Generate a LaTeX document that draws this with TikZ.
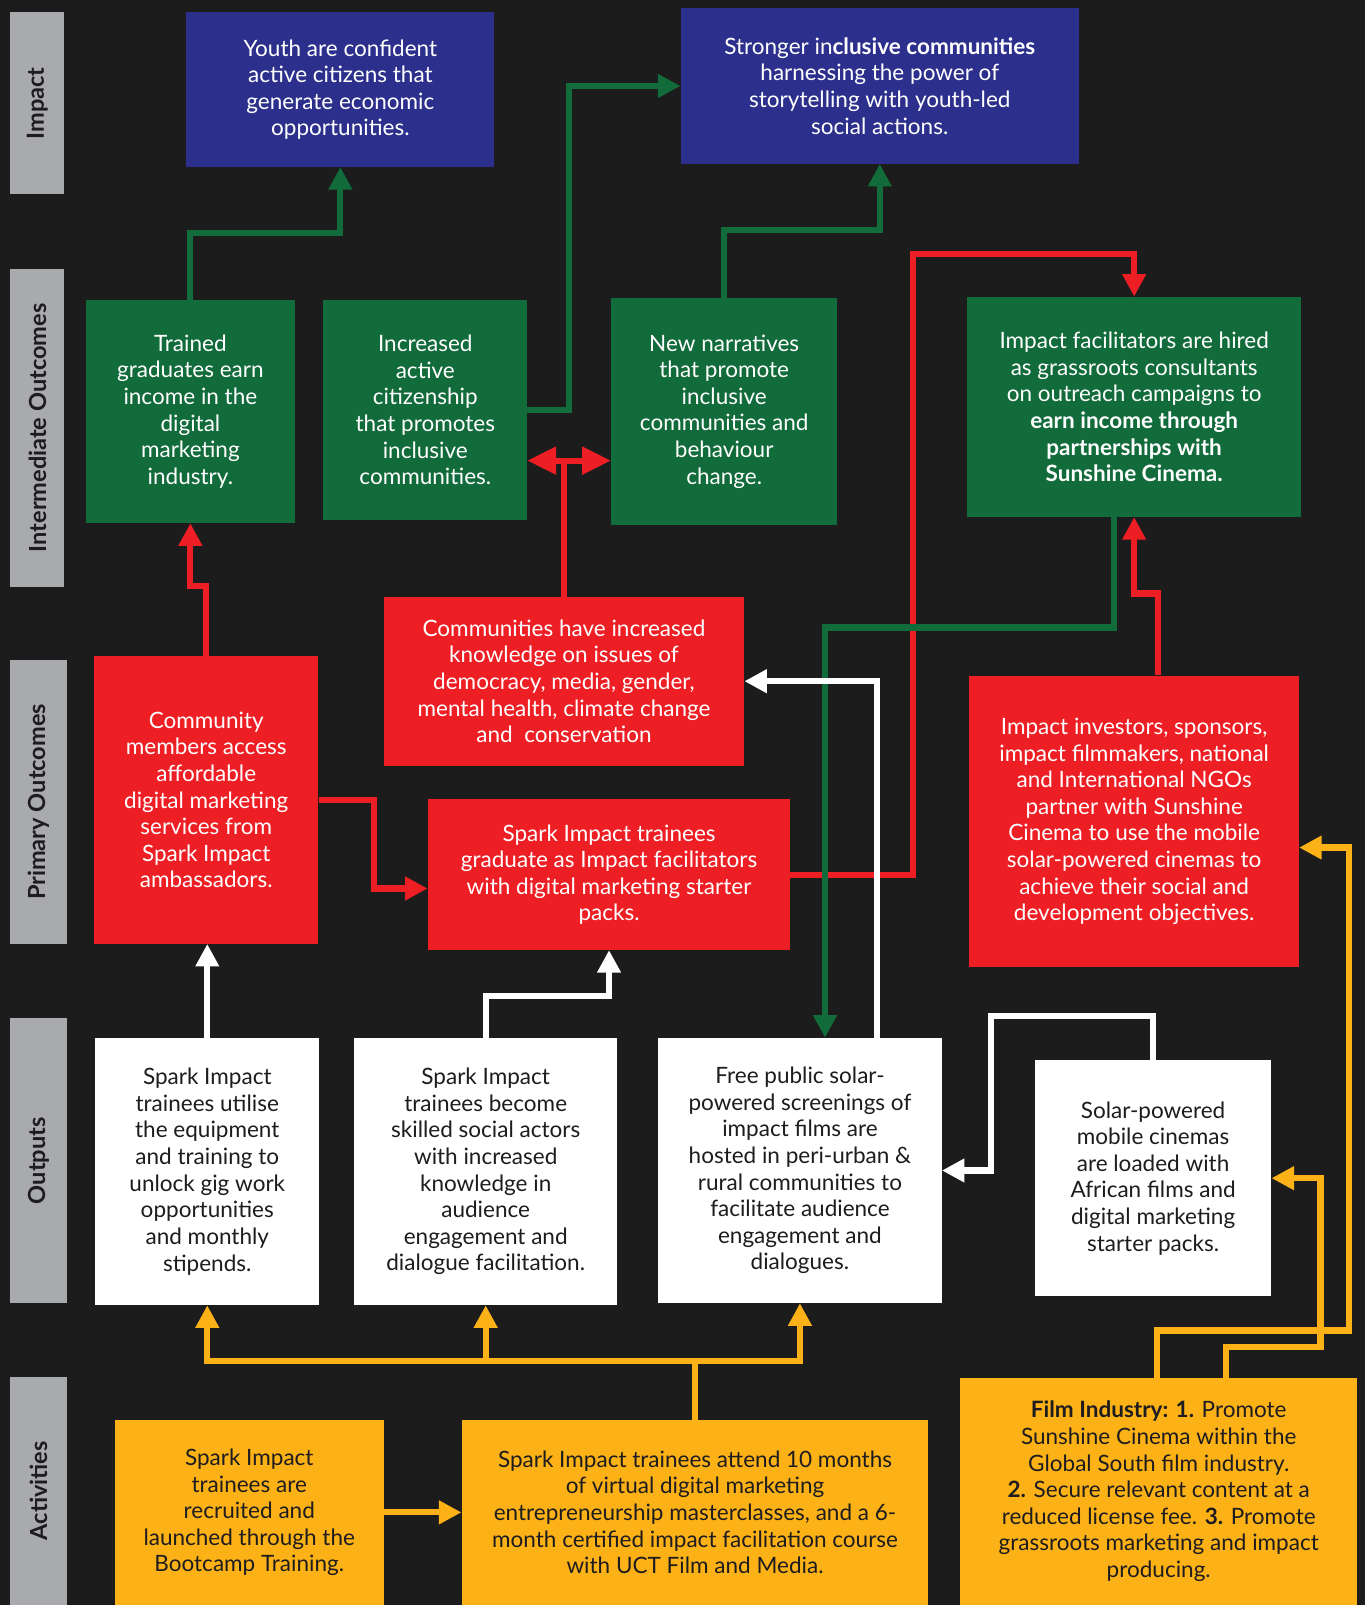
\documentclass[tikz,border=0pt]{standalone}
\usepackage{fontspec}
\setmainfont{Lato}
\usetikzlibrary{arrows.meta,calc}
\definecolor{bgc}{RGB}{28,28,28}
\definecolor{impblue}{RGB}{44,48,140}
\definecolor{iogreen}{RGB}{17,107,58}
\definecolor{pored}{RGB}{237,30,36}
\definecolor{actor}{RGB}{252,178,23}
\definecolor{lblgray}{RGB}{168,170,173}
\definecolor{ink}{RGB}{30,28,30}
\tikzset{
  box/.style={rectangle, inner sep=0pt, align=center, font=\fontsize{22}{26}\selectfont},
  bluebox/.style={box, fill=impblue, text=white},
  greenbox/.style={box, fill=iogreen, text=white},
  redbox/.style={box, fill=pored, text=white},
  whitebox/.style={box, fill=white, text=ink},
  orangebox/.style={box, fill=actor, text=ink},
  lbl/.style={rectangle, fill=lblgray, inner sep=0pt},
  lbltext/.style={rotate=90, text=ink, font=\fontsize{23}{26}\selectfont\bfseries},
  conn/.style={line width=6pt},
  tip/.style={-{Triangle[length=22pt,width=22pt]}},
  gconn/.style={conn, draw=iogreen},
  rconn/.style={conn, draw=pored},
  wconn/.style={conn, draw=white},
  oconn/.style={conn, draw=actor},
}
\begin{document}
\begin{tikzpicture}[x=1pt,y=-1pt]
\fill[bgc] (0,0) rectangle (1334,1568);
\useasboundingbox (0,0) rectangle (1334,1568);

% row labels
\node[lbl, minimum width=53, minimum height=178] (lImpact) at (36.5,101) {};
\node[lbltext] (tImpact) at (lImpact.center) {Impact};
\node[lbl, minimum width=53, minimum height=310] (lInter) at (36.5,418) {};
\node[lbltext] (tInter) at (lInter.center) {Intermediate Outcomes};
\node[lbl, minimum width=55, minimum height=277] (lPrim) at (37.5,783.5) {};
\node[lbltext] (tPrim) at (lPrim.center) {Primary Outcomes};
\node[lbl, minimum width=55, minimum height=278] (lOut) at (37.5,1134) {};
\node[lbltext] (tOut) at (lOut.center) {Outputs};
\node[lbl, minimum width=55, minimum height=223] (lAct) at (37.5,1456.5) {};
\node[lbltext] (tAct) at (lAct.center) {Activities};

% impact
\node[bluebox, minimum width=301, minimum height=151] (imp1) at (332.5,87.5)
  {Youth are confident\\active citizens that\\generate economic\\opportunities.};
\node[bluebox, minimum width=389, minimum height=152] (imp2) at (859.5,84)
  {Stronger in\textbf{clusive communities}\\harnessing the power of\\storytelling with youth-led\\social actions.};

% intermediate outcomes
\node[greenbox, minimum width=204, minimum height=218] (io1) at (186,402)
  {Trained\\graduates earn\\income in the\\digital\\marketing\\industry.};
\node[greenbox, minimum width=199, minimum height=215] (io2) at (415.5,400.5)
  {Increased\\active\\citizenship\\that promotes\\inclusive\\communities.};
\node[greenbox, minimum width=221, minimum height=222] (io3) at (707.5,402)
  {New narratives\\that promote\\inclusive\\communities and\\behaviour\\change.};
\node[greenbox, minimum width=326, minimum height=215] (io4) at (1108,397.5)
  {Impact facilitators are hired\\as grassroots consultants\\on outreach campaigns to\\\textbf{earn income through}\\\textbf{partnerships with}\\\textbf{Sunshine Cinema.}};

% primary outcomes
\node[redbox, minimum width=219, minimum height=281] (pm1) at (201.5,781.5)
  {Community\\members access\\affordable\\digital marketing\\services from\\Spark Impact\\ambassadors.};
\node[redbox, minimum width=352, minimum height=165] (pm2) at (551,665.5)
  {Communities have increased\\knowledge on issues of\\democracy, media, gender,\\mental health, climate change\\and\ \ conservation};
\node[redbox, minimum width=354, minimum height=147] (pm3) at (595,854.5)
  {Spark Impact trainees\\graduate as Impact facilitators\\with digital marketing starter\\packs.};
\node[redbox, minimum width=322, minimum height=285] (pm4) at (1108,802.5)
  {Impact investors, sponsors,\\impact filmmakers, national\\and International NGOs\\partner with Sunshine\\Cinema to use the mobile\\solar-powered cinemas to\\achieve their social and\\development objectives.};

% outputs
\node[whitebox, minimum width=219, minimum height=261] (o1) at (202.5,1144.5)
  {Spark Impact\\trainees utilise\\the equipment\\and training to\\unlock gig work\\opportunities\\and monthly\\stipends.};
\node[whitebox, minimum width=257, minimum height=261] (o2) at (474.5,1144.5)
  {Spark Impact\\trainees become\\skilled social actors\\with increased\\knowledge in\\audience\\engagement and\\dialogue facilitation.};
\node[whitebox, minimum width=277, minimum height=259] (o3) at (781.5,1143.5)
  {Free public solar-\\powered screenings of\\impact films are\\hosted in peri-urban \&\\rural communities to\\facilitate audience\\engagement and\\dialogues.};
\node[whitebox, minimum width=231, minimum height=230] (o4) at (1126.5,1151)
  {Solar-powered\\mobile cinemas\\are loaded with\\African films and\\digital marketing\\starter packs.};

% activities
\node[orangebox, minimum width=263, minimum height=181] (a1) at (243.5,1477.5)
  {Spark Impact\\trainees are\\recruited and\\launched through the\\Bootcamp Training.};
\node[orangebox, minimum width=456, minimum height=181] (a2) at (679,1477.5)
  {Spark Impact trainees attend 10 months\\of virtual digital marketing\\entrepreneurship masterclasses, and a 6-\\month certified impact facilitation course\\with UCT Film and Media.};
\node[orangebox, minimum width=388, minimum height=222] (a3) at (1132,1457)
  {\textbf{Film Industry: 1.} Promote\\Sunshine Cinema within the\\Global South film industry.\\\textbf{2.} Secure relevant content at a\\reduced license fee. \textbf{3.} Promote\\grassroots marketing and impact\\producing.};

% ---- connectors ----
% red
\draw[rconn, tip] (pm1.north) -- ++(0,-68) -| (io1.south);
\draw[rconn] (pm2.north) -- (pm2.north |- 0,450);
\draw[rconn, {Triangle[length=28pt,width=26pt]}-{Triangle[length=28pt,width=26pt]}]
  (io2.east |- 0,450) -- (io3.west |- 0,450);
\draw[rconn, tip] (pm1.east) -| (365,868) -- (pm3.west |- 0,868);
\draw[rconn, tip] (pm3.east) -| (892,248) -| (io4.north);
\draw[rconn, tip] ($(pm4.north)+(23,0)$) -- ++(0,-80) -| (io4.south);

% green
\draw[gconn, tip] (io1.north) -- ++(0,-65) -| (imp1.south);
\draw[gconn, tip] (io2.east) -| (556,84) -- (imp2.west);
\draw[gconn, tip] (io3.north) -- ++(0,-66) -| (imp2.south);
\draw[gconn, tip] ($(io4.south)+(-20,0)$) |- (806,613) -- ($(o3.north)+(24.5,0)$);

% white
\draw[wconn, tip] (o1.north) -- (o1.north |- pm1.south);
\draw[wconn, tip] (o2.north) -- ++(0,-41) -| (pm3.south);
\draw[wconn, tip] ($(o3.north)+(75.5,0)$) |- (pm2.east);
\draw[wconn, tip] (o4.north) -- ++(0,-43) -| ($(o3.east)+(48,0)$) -- (o3.east);

% orange
\coordinate (obus) at ($(a2.north)+(0,-57)$);
\draw[oconn] (a2.north) -- (obus);
\draw[oconn, tip] (obus) -| (o1.south);
\draw[oconn, tip] (obus) -| (o3.south);
\draw[oconn, tip] (o2.south |- obus) -- (o2.south);
\draw[oconn, tip] (a1.east) -- (a2.west);
\draw[oconn, tip] ($(a3.north)+(-2,0)$) -- ++(0,-46) -| (1318,828) -- (pm4.east |- 0,828);
\draw[oconn, tip] ($(a3.north)+(66,0)$) -- ++(0,-30) -| (1290,1151) -- (o4.east);
\end{tikzpicture}
\end{document}
